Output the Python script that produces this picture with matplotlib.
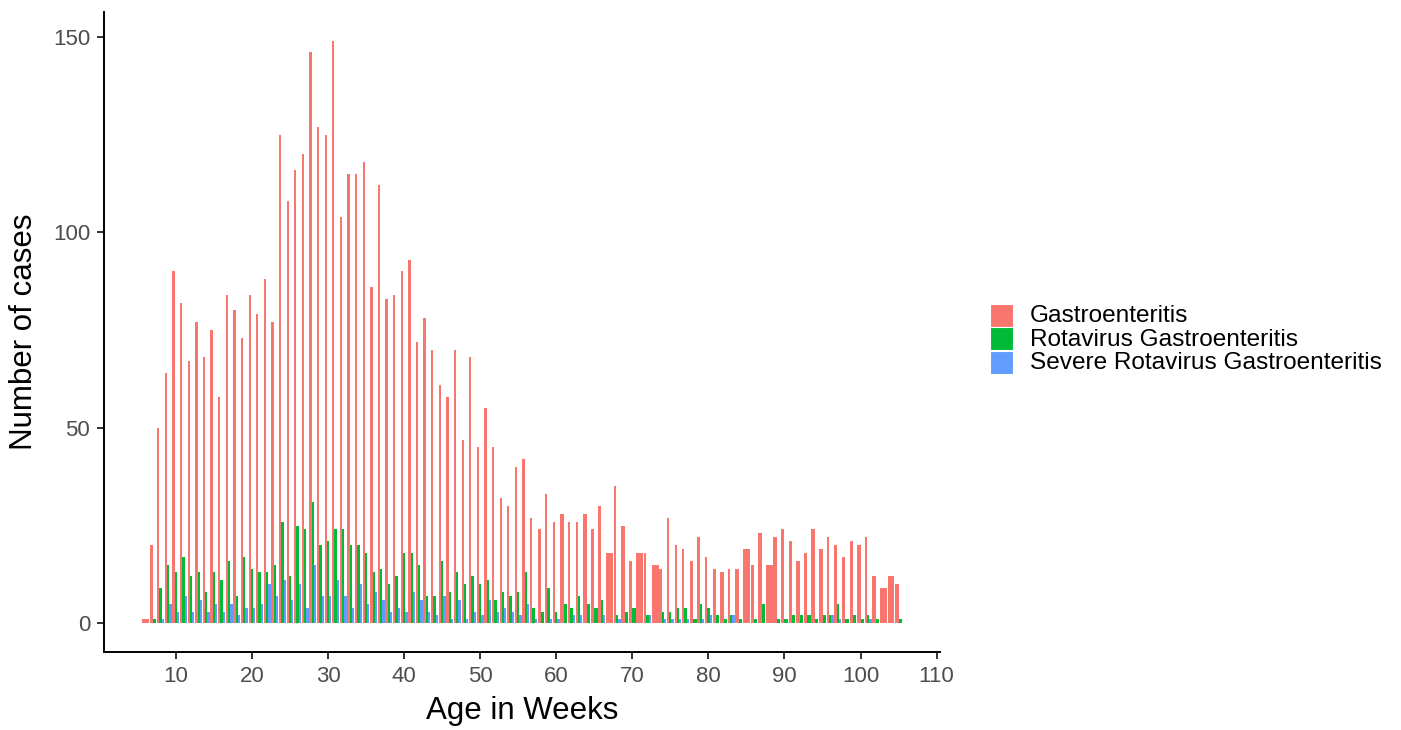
import matplotlib
matplotlib.use("Agg")
import matplotlib.pyplot as plt
from matplotlib.patches import Rectangle
import numpy as np

plt.rcParams["font.family"] = ["Liberation Sans", "DejaVu Sans"]

# ---- data (0 = no bar for that group in that week) ----
weeks = list(range(6, 106))
gastro = [1, 20, 50, 64, 90, 82, 67, 77, 68, 75,
          58, 84, 80, 73, 84, 79, 88, 77, 125, 108,
          116, 120, 146, 127, 125, 149, 104, 115, 115, 118,
          86, 112, 83, 84, 90, 93, 72, 78, 70, 61,
          58, 70, 47, 68, 45, 55, 45, 32, 30, 40,
          42, 27, 24, 33, 26, 28, 26, 26, 28, 24,
          30, 18, 35, 25, 16, 18, 18, 15, 14, 27,
          20, 19, 16, 22, 17, 14, 13, 14, 14, 19,
          15, 23, 15, 22, 24, 21, 16, 18, 24, 19,
          22, 20, 17, 21, 20, 22, 12, 9, 12, 10]
rota = [0, 1, 9, 15, 13, 17, 12, 13, 8, 13,
        11, 16, 7, 17, 14, 13, 13, 15, 26, 12,
        25, 24, 31, 20, 21, 24, 24, 20, 20, 18,
        13, 14, 10, 12, 18, 18, 15, 7, 7, 16,
        8, 13, 10, 12, 10, 11, 6, 8, 7, 8,
        13, 4, 3, 9, 3, 5, 4, 7, 5, 4,
        6, 0, 2, 3, 4, 0, 2, 0, 3, 3,
        4, 4, 1, 5, 4, 2, 1, 2, 1, 0,
        1, 5, 0, 1, 1, 2, 2, 2, 1, 2,
        2, 5, 1, 2, 1, 2, 1, 0, 0, 1]
severe = [0, 0, 1, 5, 3, 7, 3, 6, 3, 5,
          3, 5, 2, 4, 4, 5, 10, 7, 11, 6,
          10, 4, 15, 7, 7, 11, 7, 4, 10, 5,
          8, 6, 3, 4, 3, 8, 6, 3, 2, 7,
          1, 6, 1, 3, 2, 6, 3, 4, 3, 2,
          5, 1, 0, 1, 1, 0, 2, 2, 0, 0,
          2, 0, 1, 0, 0, 0, 2, 0, 1, 1,
          1, 1, 0, 1, 2, 0, 0, 2, 0, 0,
          0, 0, 0, 0, 0, 0, 0, 0, 0, 0,
          2, 1, 0, 0, 0, 1, 0, 0, 0, 0]
series_names = ["Gastroenteritis", "Rotavirus Gastroenteritis",
                "Severe Rotavirus Gastroenteritis"]
colors = ["#F8766D", "#00BA38", "#619CFF"]
x_ticks = [10, 20, 30, 40, 50, 60, 70, 80, 90, 100, 110]
y_ticks = [0, 50, 100, 150]

W, H = 1401, 730
fig = plt.figure(figsize=(W / 100, H / 100), dpi=100)
ax = fig.add_axes([104 / W, 1 - 652.4 / H, (940 - 104) / W, (652.4 - 11.6) / H])

# dodge like ggplot: groups present in a week share the 0.9 width
all_series = [gastro, rota, severe]
xs = [[], [], []]
ws = [[], [], []]
hs = [[], [], []]
for i, w in enumerate(weeks):
    present = [k for k in range(3) if all_series[k][i] > 0]
    n = len(present)
    if n == 0:
        continue
    bw = 0.9 / n
    for j, k in enumerate(present):
        xs[k].append(w - 0.45 + bw * (j + 0.5))
        ws[k].append(bw)
        hs[k].append(all_series[k][i])

for k in range(3):
    ax.bar(xs[k], hs[k], width=ws[k], color=colors[k], linewidth=0)

ax.set_xlim(0.555, 110.445)
ax.set_ylim(-7.45, 156.45)
ax.set_xticks(x_ticks)
ax.set_yticks(y_ticks)
for s in ["top", "right"]:
    ax.spines[s].set_visible(False)
for s in ["left", "bottom"]:
    ax.spines[s].set_linewidth(1.4)
    ax.spines[s].set_color("black")
ax.tick_params(axis="both", direction="out", length=5, width=1.4,
               color="#333333", labelsize=16, labelcolor="#4D4D4D", pad=5)
ax.set_xlabel("Age in Weeks", fontsize=22.5, labelpad=6)
ax.set_ylabel("Number of cases", fontsize=22.5, labelpad=10)

# legend (ggplot style, stacked keys)
key_x, key_w = 990, 23
rows_top = [304, 327.5, 351]
for k in range(3):
    y0 = rows_top[k]
    fig.patches.append(Rectangle((key_x / W, 1 - (y0 + 23) / H), key_w / W, 23 / H,
                                 transform=fig.transFigure, facecolor=colors[k],
                                 edgecolor="white", linewidth=0.8))
    fig.text(1030 / W, 1 - (y0 + 12.5) / H, series_names[k], fontsize=17.6,
             va="center", ha="left", color="black")

fig.savefig("out.png", dpi=100, facecolor="white")
